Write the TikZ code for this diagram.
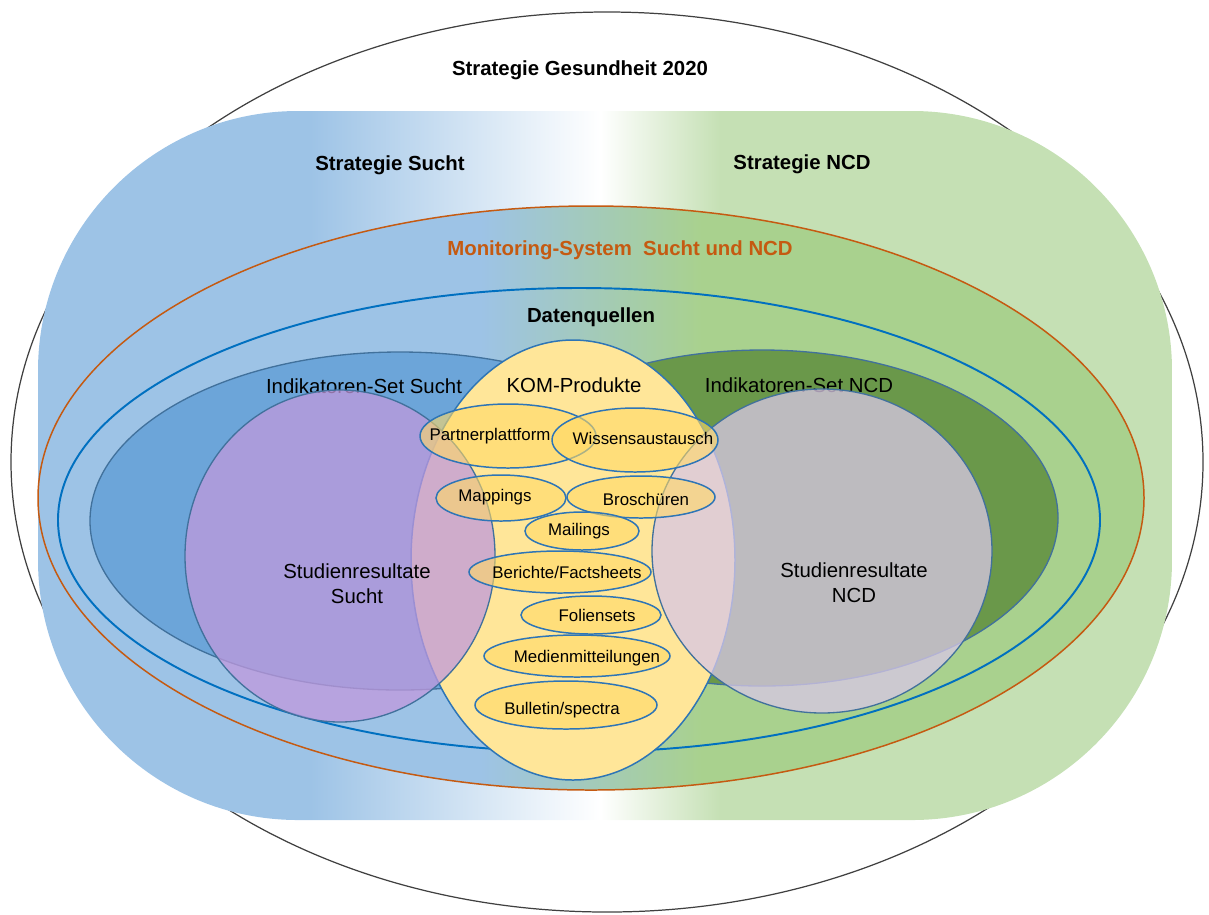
\documentclass[tikz,border=0pt]{standalone}
\usepackage{fontspec}
\setmainfont{Liberation Sans}

\definecolor{suchtblue}{HTML}{9DC3E6}
\definecolor{ncdgreen}{HTML}{C5E0B4}
\definecolor{monigreen}{HTML}{A9D18E}
\definecolor{moniorange}{HTML}{C55A11}
\definecolor{quellblue}{HTML}{0070C0}
\definecolor{indsucht}{HTML}{6CA5D9}
\definecolor{indncd}{HTML}{6A984A}
\definecolor{setline}{HTML}{41719C}
\definecolor{komfill}{HTML}{FFE699}
\definecolor{komline}{HTML}{2E75B6}
\definecolor{itemfill}{HTML}{FFD966}
\definecolor{resucht}{HTML}{C099DD}
\definecolor{resncd}{HTML}{D8C7E5}
\definecolor{rimgrey}{HTML}{404040}

\pgfdeclarehorizontalshading{stratshade}{100bp}{color(0bp)=(suchtblue); color(37bp)=(suchtblue); color(49.8bp)=(white); color(55.1bp)=(ncdgreen); color(100bp)=(ncdgreen)}
\pgfdeclarehorizontalshading{monishade}{100bp}{color(0bp)=(suchtblue); color(45bp)=(suchtblue); color(55bp)=(monigreen); color(100bp)=(monigreen)}

\tikzset{
  titletext/.style={font=\fontsize{11.6}{14}\selectfont\bfseries},
  settext/.style={font=\fontsize{11.6}{14.2}\selectfont, align=center},
  itemtext/.style={font=\fontsize{9.6}{11.5}\selectfont},
  setrim/.style={draw=setline, line width=.75pt},
  komitem/.style={fill=itemfill, fill opacity=.6, draw=komline, line width=.85pt}
}

\begin{document}
\begin{tikzpicture}[x=0.02cm, y=-0.02cm]
    \useasboundingbox (0,0) rectangle (1209,914);
    % outer frame and strategies
    \draw [rimgrey, line width=.7pt] (607,462) ellipse [x radius=596, y radius=450];
    \shade [shading=stratshade, rounded corners=5.2cm] (38,111) rectangle (1172,820);
    \node [titletext] (gesund) at (580,70) {Strategie Gesundheit 2020};
    \node [titletext] (stratsucht) at (390,165) {Strategie Sucht};
    \node [titletext] (stratncd) at (802,164) {Strategie NCD};
    % monitoring and data sources
    \shadedraw [shading=monishade, draw=moniorange, line width=.85pt] (591,498) ellipse [x radius=553, y radius=292];
    \node [titletext, moniorange] (moni) at (620,250) {Monitoring-System\ \ Sucht und NCD};
    \draw [quellblue, line width=1.1pt] (579,520) ellipse [x radius=521, y radius=232];
    \node [titletext] (quellen) at (591,317) {Datenquellen};
    % indicator sets
    \filldraw [fill=indsucht, setrim] (400,521) ellipse [x radius=310, y radius=169];
    \filldraw [fill=indncd, setrim] (762,518) ellipse [x radius=296, y radius=168];
    \node [settext] (indsuchttxt) at (364,386) {Indikatoren-Set Sucht};
    \node [settext] (indncdtxt) at (799,385) {Indikatoren-Set NCD};
    % KOM products
    \filldraw [fill=komfill, draw=komline, line width=.85pt] (573,560) ellipse [x radius=162, y radius=220];
    \node [settext] (komtxt) at (574,385) {KOM-Produkte};
    % study results
    \filldraw [fill=resucht, fill opacity=.75, setrim] (340,556) ellipse [x radius=155, y radius=166];
    \filldraw [fill=resncd, fill opacity=.76, setrim] (822,551) ellipse [x radius=170, y radius=162];
    \node [settext] (ressuchttxt) at (357,584) {Studienresultate\\Sucht};
    \node [settext] (resncdtxt) at (854,583) {Studienresultate\\NCD};
    % single products
    \draw [komitem] (508,436) ellipse [x radius=88, y radius=32];
    \draw [komitem] (635,440) ellipse [x radius=83, y radius=32];
    \draw [komitem] (501,498) ellipse [x radius=65, y radius=23];
    \draw [komitem] (641,497) ellipse [x radius=74, y radius=21];
    \draw [komitem] (582,531) ellipse [x radius=57, y radius=19];
    \draw [komitem] (560,572) ellipse [x radius=91, y radius=21];
    \draw [komitem] (591,615) ellipse [x radius=70, y radius=19];
    \draw [komitem] (577,656) ellipse [x radius=93, y radius=21];
    \draw [komitem] (566,705) ellipse [x radius=91, y radius=24];
    \node [itemtext] (partner) at (490,436) {Partnerplattform};
    \node [itemtext] (wissen) at (643,438) {Wissensaustausch};
    \node [itemtext] (mappings) at (495,497) {Mappings};
    \node [itemtext] (brosch) at (646,499) {Broschüren};
    \node [itemtext] (mailings) at (579,531) {Mailings};
    \node [itemtext] (berichte) at (567,572) {Berichte/Factsheets};
    \node [itemtext] (folien) at (597,615) {Foliensets};
    \node [itemtext] (medien) at (587,658) {Medienmitteilungen};
    \node [itemtext] (bulletin) at (562,710) {Bulletin/spectra};
\end{tikzpicture}
\end{document}
